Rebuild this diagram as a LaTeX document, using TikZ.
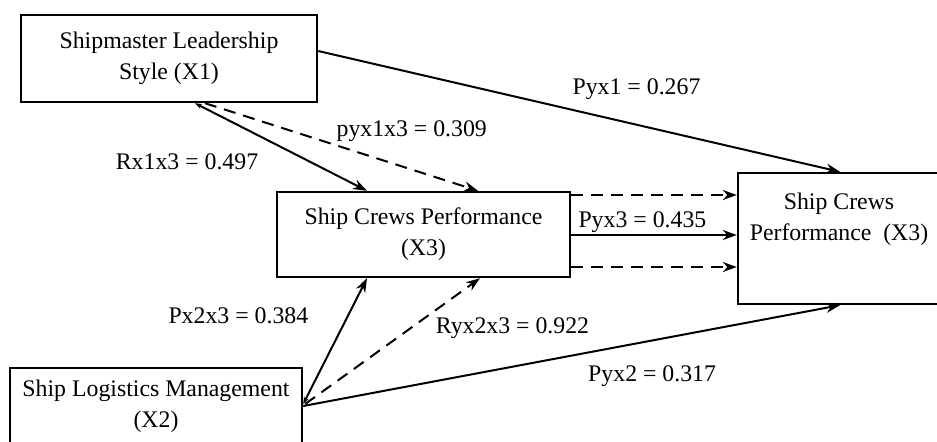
\documentclass[tikz,border=0pt]{standalone}
\usepackage{fontspec}
\setmainfont{Liberation Serif}
\usetikzlibrary{arrows.meta,calc}

\begin{document}
\begin{tikzpicture}[x=0.5pt,y=-0.5pt,>={Stealth[length=7pt,width=5pt]},
    font=\fontsize{11.9}{15.5}\selectfont,
    box/.style={draw,line width=1.2pt,rectangle,align=center,inner sep=0pt},
    link/.style={line width=1pt},
    dashlink/.style={line width=1pt,dash pattern=on 6pt off 4pt},
    back/.style={{Stealth[length=3.5pt,width=2.5pt]}->}]
  \path[use as bounding box,clip] (0,0) rectangle (937,441);

  \node[box,minimum width=148pt,minimum height=43.5pt] (x1) at (169,58.5)
        {Shipmaster Leadership\\Style (X1)};
  \node[box,minimum width=146.5pt,minimum height=42.5pt] (x3) at (423.5,234.5)
        {Ship Crews Performance\\(X3)};
  \node[box,minimum width=146pt,minimum height=38pt] (x2) at (156,406)
        {Ship Logistics Management\\(X2)};
  \node[box,minimum width=101pt,minimum height=65.5pt,
        label={[align=center,yshift=9.5pt]center:{Ship Crews\\Performance~~(X3)}}] (y) at (839,238.5) {};

  \path[->,link]
        ($(x1.east)+(0,-7.5)$) edge node[pos=0.61,yshift=18pt] {Pyx1 = 0.267} ($(y.north)+(1,0)$)
        ($(x2.east)$) edge node[pos=0.65,yshift=-17.6pt] {Pyx2 = 0.317} ($(y.south)+(1,0)$)
        ($(x3.east)+(0,0.5)$) edge node[pos=0.43,yshift=6.5pt] {Pyx3 = 0.435} ($(y.west)+(0,-3.5)$);

  \path[back,link]
        ($(x1.south)+(26,0)$) edge node[pos=0.5,xshift=-47pt,yshift=-7.5pt] {Rx1x3 = 0.497} ($(x3.north)+(-56.5,0)$)
        ($(x2.east)+(0,-2)$) edge node[pos=0.7,xshift=-54.75pt] {Px2x3 = 0.384} ($(x3.south)+(-56.5,0)$);

  \path[->,dashlink]
        ($(x1.south)+(36,0)$) edge node[pos=0.75,xshift=1pt,yshift=18.75pt] {pyx1x3 = 0.309} ($(x3.north)+(54.5,0)$)
        ($(x2.east)+(2,-2)$) edge node[pos=0.6,xshift=51.2pt] {Ryx2x3 = 0.922} ($(x3.south)+(56.5,0)$)
        ($(x3.east)+(0,-39.5)$) edge ($(y.west)+(0,-43.5)$)
        ($(x3.east)+(0,32.5)$) edge ($(y.west)+(0,28.5)$);
\end{tikzpicture}
\end{document}
